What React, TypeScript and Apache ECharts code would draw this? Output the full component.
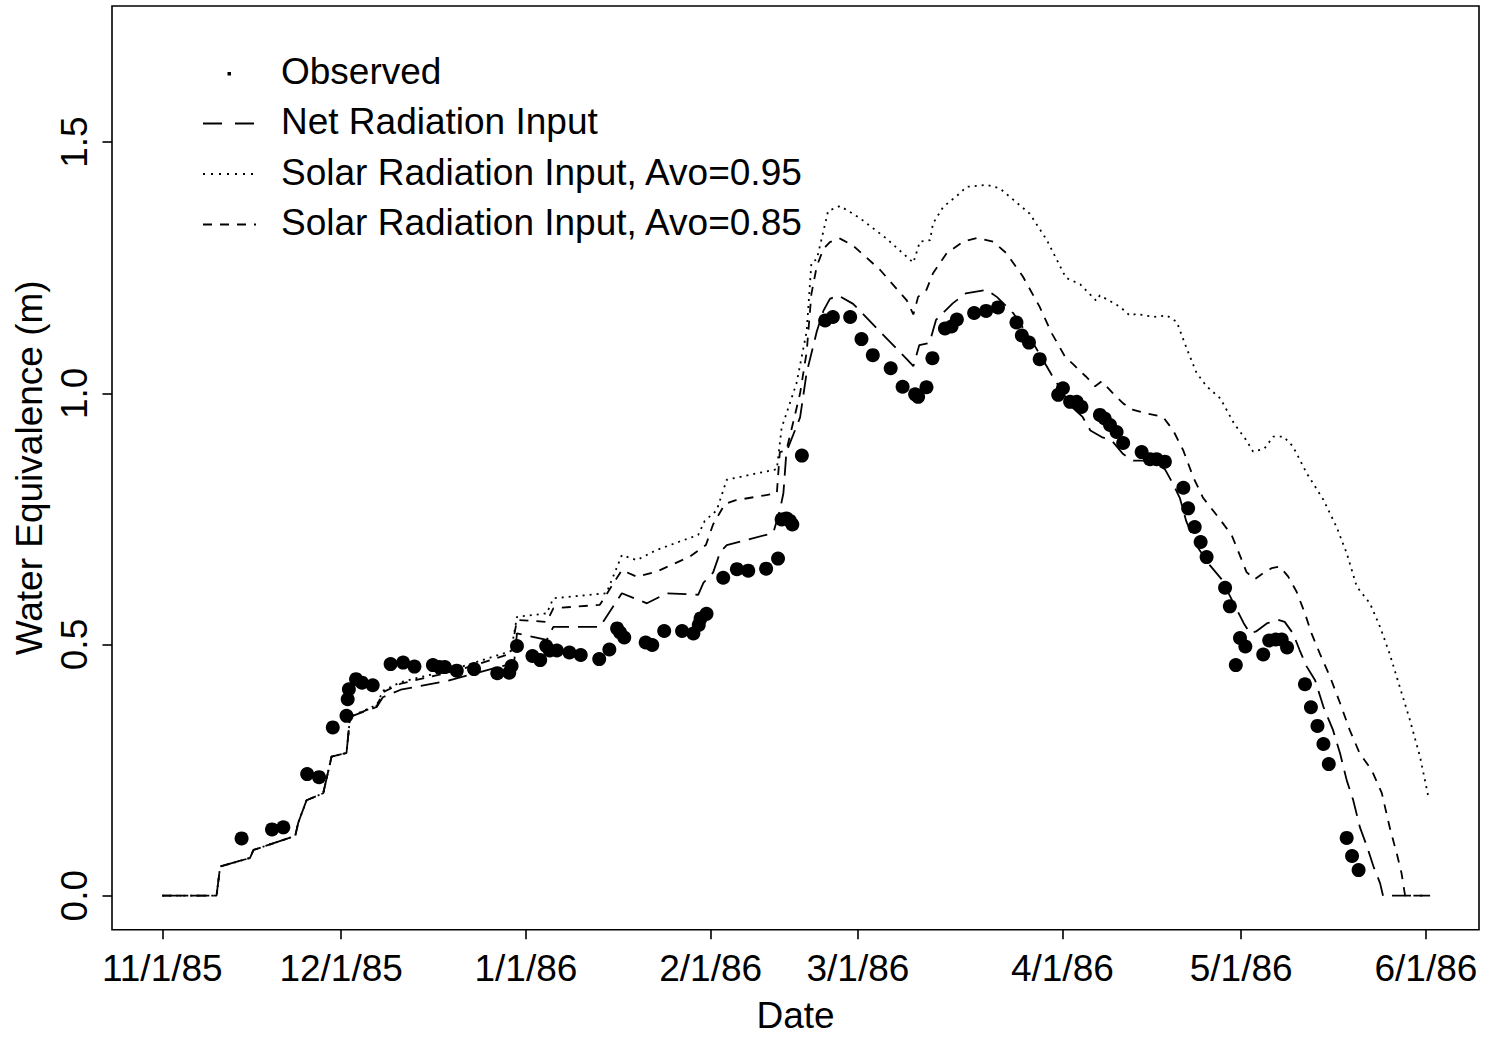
import React, { useEffect, useRef } from "react";
import * as echarts from "echarts";

// X axis is in days since 11/1/85; tick positions as they appear in the reference
const tickDays = [0, 30, 61, 92, 116.7, 151, 181, 212];
const tickLabels = ["11/1/85", "12/1/85", "1/1/86", "2/1/86", "3/1/86", "4/1/86", "5/1/86", "6/1/86"];
const yTicks = [0, 0.5, 1.0, 1.5];

const legendNames = [
  "Observed",
  "Net Radiation Input",
  "Solar Radiation Input, Avo=0.95",
  "Solar Radiation Input, Avo=0.85",
];

// Observed water equivalence [day, m]
const observed: number[][] = [
  [13.3, 0.114], [18.4, 0.132], [20.3, 0.136], [24.3, 0.242], [26.3, 0.236], [28.6, 0.335],
  [30.9, 0.358], [31.1, 0.391], [31.3, 0.411], [32.5, 0.431], [33.5, 0.424], [35.3, 0.419],
  [38.3, 0.461], [40.4, 0.464], [42.3, 0.456], [45.4, 0.459], [46.5, 0.455], [47.4, 0.455],
  [49.4, 0.448], [52.3, 0.451], [56.2, 0.443], [58.2, 0.444], [58.6, 0.457], [59.5, 0.497],
  [62.1, 0.477], [63.4, 0.469], [64.4, 0.497], [65.0, 0.488], [66.2, 0.488], [68.3, 0.484],
  [70.2, 0.479], [73.3, 0.471], [75.0, 0.49], [76.3, 0.532], [76.8, 0.524], [77.5, 0.514],
  [81.1, 0.504], [82.2, 0.499], [84.2, 0.527], [87.2, 0.527], [89.1, 0.522], [90.0, 0.539],
  [90.3, 0.552], [91.3, 0.561], [94.1, 0.633], [96.4, 0.65], [98.3, 0.647], [101.3, 0.651],
  [103.3, 0.671], [103.9, 0.749], [104.7, 0.751], [105.3, 0.746], [105.7, 0.739], [107.3, 0.876],
  [111.2, 1.145], [112.5, 1.152], [115.4, 1.152], [117.3, 1.108], [119.2, 1.076], [122.2, 1.05],
  [124.2, 1.013], [126.3, 0.998], [126.8, 0.993], [128.2, 1.012], [129.2, 1.07], [131.3, 1.129],
  [132.4, 1.133], [133.3, 1.147], [136.2, 1.16], [138.2, 1.164], [140.2, 1.171], [143.3, 1.141],
  [144.2, 1.115], [145.4, 1.101], [147.2, 1.068], [150.3, 0.997], [151.1, 1.01], [152.3, 0.983],
  [153.4, 0.983], [154.2, 0.973], [157.3, 0.957], [158.1, 0.95], [159.0, 0.937], [160.1, 0.923],
  [161.2, 0.901], [164.3, 0.883], [165.7, 0.869], [166.8, 0.869], [168.2, 0.864], [171.3, 0.812],
  [172.1, 0.771], [173.2, 0.734], [174.2, 0.704], [175.2, 0.674], [178.3, 0.613], [179.1, 0.576],
  [180.1, 0.459], [180.8, 0.513], [181.7, 0.496], [184.7, 0.48], [185.7, 0.508], [186.8, 0.51],
  [187.8, 0.51], [188.7, 0.494], [191.7, 0.421], [192.7, 0.375], [193.8, 0.338], [194.8, 0.302],
  [195.7, 0.262], [198.7, 0.115], [199.6, 0.079], [200.7, 0.051],
];

// Net radiation input model
const netRadiation: number[][] = [
  [0, 0], [9.1, 0], [9.7, 0.058], [14.7, 0.075], [15.3, 0.091], [22.3, 0.119], [22.8, 0.145],
  [24.2, 0.19], [27, 0.204], [28.4, 0.277], [30.9, 0.284], [31.5, 0.356], [36, 0.376], [37, 0.395],
  [40, 0.41], [48, 0.428], [56.6, 0.456], [59, 0.462], [59.5, 0.522], [64.5, 0.509], [65.6, 0.535],
  [73.4, 0.535], [77.1, 0.602], [81.3, 0.582], [84.6, 0.602], [89.9, 0.599], [90.8, 0.623],
  [92.4, 0.643], [93.6, 0.684], [94.7, 0.698], [102.5, 0.722], [103.6, 0.767], [104.2, 0.801],
  [104.7, 0.883], [107, 0.952], [108.1, 1.041], [109.8, 1.123], [110.9, 1.164], [112, 1.188],
  [113.4, 1.195], [115.9, 1.178], [120.4, 1.123], [124.9, 1.068], [126, 1.054], [127, 1.096],
  [128.7, 1.1], [129.8, 1.146], [132.6, 1.179], [134.8, 1.199], [138.3, 1.206], [140, 1.192],
  [142.8, 1.159], [146.1, 1.1], [149.2, 1.037], [152.5, 0.974], [154.4, 0.953], [155.7, 0.926],
  [157.6, 0.913], [159.3, 0.906], [161.2, 0.879], [162.9, 0.866], [165.7, 0.866], [168.2, 0.849],
  [169.6, 0.819], [170.7, 0.792], [171.8, 0.745], [173.5, 0.697], [175.8, 0.657], [177.7, 0.63],
  [179.7, 0.583], [181.4, 0.543], [182.5, 0.522], [183.5, 0.526], [185.3, 0.542], [187.2, 0.549],
  [188.3, 0.545], [189.7, 0.522], [190.8, 0.489], [192, 0.456], [193.4, 0.429], [194.8, 0.376],
  [196.4, 0.33], [197.6, 0.283], [198.7, 0.23], [199.8, 0.19], [200.9, 0.137], [202.1, 0.098],
  [203.2, 0.058], [204.3, 0.025], [204.8, 0], [212.7, 0],
];

// Solar radiation input, albedo 0.95
const solar95: number[][] = [
  [0, 0], [9.1, 0], [9.7, 0.058], [14.7, 0.075], [15.3, 0.091], [22.3, 0.119], [22.8, 0.145],
  [24.2, 0.19], [27, 0.204], [28.4, 0.277], [30.9, 0.284], [31.5, 0.356], [36, 0.38], [37, 0.408],
  [40, 0.425], [50, 0.455], [58.5, 0.487], [59.5, 0.555], [64.5, 0.562], [65.6, 0.592],
  [74.5, 0.602], [77.1, 0.678], [79.6, 0.668], [82.9, 0.688], [86.8, 0.705], [89.9, 0.718],
  [91, 0.746], [93, 0.767], [94.7, 0.828], [103.1, 0.849], [103.9, 0.931], [106.4, 1.02],
  [108.1, 1.123], [108.9, 1.26], [109.8, 1.267], [110.9, 1.322], [111.7, 1.363], [113.7, 1.373],
  [117, 1.349], [121.5, 1.308], [126, 1.26], [127.1, 1.302], [128.8, 1.305], [129.3, 1.338],
  [131, 1.371], [133.8, 1.398], [134.9, 1.411], [138.3, 1.415], [140.5, 1.408], [142.8, 1.385],
  [145.5, 1.358], [148.4, 1.305], [151.6, 1.23], [154, 1.217], [156.7, 1.184], [157.3, 1.195],
  [160.7, 1.172], [162.3, 1.155], [163.5, 1.158], [166.3, 1.152], [168.5, 1.155], [170.2, 1.142],
  [171.9, 1.088], [173.5, 1.041], [175.2, 1.014], [177.5, 0.99], [179.8, 0.94], [181.9, 0.906],
  [183, 0.884], [184.9, 0.89], [186.4, 0.914], [188.1, 0.914], [189.7, 0.894], [192, 0.841],
  [194.8, 0.788], [197, 0.734], [198.7, 0.682], [200.4, 0.615], [202.6, 0.582], [204.3, 0.535],
  [205.9, 0.482], [207.6, 0.416], [209.3, 0.35], [211, 0.277], [212.4, 0.197],
];

// Solar radiation input, albedo 0.85
const solar85: number[][] = [
  [0, 0], [9.1, 0], [9.7, 0.058], [14.7, 0.075], [15.3, 0.091], [22.3, 0.119], [22.8, 0.145],
  [24.2, 0.19], [27, 0.204], [28.4, 0.277], [30.9, 0.284], [31.5, 0.356], [36, 0.378], [37, 0.405],
  [40, 0.422], [50, 0.45], [58.5, 0.482], [59.5, 0.549], [64.5, 0.545], [65.6, 0.572],
  [73.4, 0.579], [77.1, 0.648], [79.6, 0.635], [82.9, 0.645], [88.5, 0.675], [91.2, 0.698],
  [92.4, 0.739], [94.4, 0.78], [96.1, 0.787], [103.1, 0.801], [103.6, 0.883], [104.7, 0.886],
  [105.9, 0.945], [107, 1.0], [108.1, 1.082], [108.9, 1.198], [109.8, 1.253], [110.9, 1.287],
  [112, 1.301], [113.7, 1.308], [115.9, 1.294], [120.4, 1.246], [124.9, 1.185], [126, 1.157],
  [126.8, 1.192], [128.2, 1.206], [129.3, 1.239], [131.6, 1.279], [134.4, 1.302], [136.6, 1.309],
  [139.4, 1.302], [141.6, 1.279], [144.4, 1.232], [147.2, 1.172], [149.2, 1.12], [151.4, 1.074],
  [152.8, 1.058], [154.9, 1.034], [156.5, 1.014], [157.6, 1.024], [159.5, 1.0], [161.2, 0.98],
  [162.9, 0.967], [165.1, 0.96], [167.9, 0.953], [169.6, 0.926], [171.3, 0.886], [173, 0.832],
  [174.6, 0.792], [176, 0.771], [177.7, 0.745], [179.4, 0.718], [180.8, 0.677], [181.9, 0.644],
  [183.3, 0.63], [184.7, 0.642], [186.1, 0.652], [187.5, 0.655], [188.9, 0.635], [190.3, 0.605],
  [191.7, 0.562], [192.8, 0.522], [194.2, 0.482], [195.9, 0.436], [197.6, 0.383], [199.2, 0.33],
  [200.9, 0.283], [202.9, 0.25], [204.6, 0.204], [205.9, 0.137], [207.1, 0.084], [207.9, 0.045],
  [208.5, 0], [212.7, 0],
];

const FONT = "'Liberation Sans', Arial, Helvetica, sans-serif";
const FS = 37;

export default function App() {
  const ref = useRef<HTMLDivElement>(null);

  useEffect(() => {
    if (!ref.current) return;
    const chart = echarts.init(ref.current, undefined, { renderer: "svg" });

    const labelFor = (v: number) => {
      let best = 0;
      for (let i = 1; i < tickDays.length; i++) {
        if (Math.abs(tickDays[i] - v) < Math.abs(tickDays[best] - v)) best = i;
      }
      return tickLabels[best];
    };

    const legendY0 = 72;
    const legendDy = 50.5;
    const dashes: (number[] | null)[] = [null, [19, 13], [2, 6], [9, 8]];
    const graphic: any[] = [];
    legendNames.forEach((name, i) => {
      const yc = legendY0 + legendDy * i;
      graphic.push({
        type: "text",
        left: 281,
        top: yc - FS / 2 - 1,
        style: { text: name, fontSize: FS, fontFamily: FONT, fill: "#000" },
      });
      if (i === 0) {
        graphic.push({
          type: "rect",
          shape: { x: 227.5, y: yc, width: 3.5, height: 3.5 },
          style: { fill: "#000" },
        });
      } else {
        graphic.push({
          type: "line",
          shape: { x1: 203, y1: yc + 1, x2: 256, y2: yc + 1 },
          style: { stroke: "#000", lineWidth: 1.8, lineDash: dashes[i] },
        });
      }
    });

    const lineSeries = (name: string, data: number[][], dash: number[]) => ({
      name,
      type: "line",
      data,
      showSymbol: false,
      symbol: "none",
      lineStyle: { color: "#000", width: 1.8, type: dash },
      z: 2,
    });

    chart.setOption({
      animation: false,
      backgroundColor: "#fff",
      grid: {
        left: 112,
        right: 21,
        top: 6,
        bottom: 110.3,
        show: true,
        borderColor: "#000",
        borderWidth: 1.6,
        backgroundColor: "transparent",
      },
      xAxis: {
        type: "value",
        min: -8.44,
        max: 220.9,
        splitLine: { show: false },
        axisLine: { show: false, onZero: false },
        axisTick: {
          show: true,
          length: 9.5,
          lineStyle: { color: "#000", width: 1.6 },
          customValues: tickDays,
        },
        axisLabel: {
          show: true,
          customValues: tickDays,
          formatter: (v: number) => labelFor(v),
          color: "#000",
          fontSize: FS,
          fontFamily: FONT,
          lineHeight: FS,
          margin: 20,
        },
        name: "Date",
        nameLocation: "middle",
        nameGap: 67,
        nameTextStyle: { color: "#000", fontSize: FS, fontFamily: FONT, lineHeight: FS },
      },
      yAxis: {
        type: "value",
        min: -0.0677,
        max: 1.771,
        splitLine: { show: false },
        axisLine: { show: false, onZero: false },
        axisTick: {
          show: true,
          length: 9.5,
          lineStyle: { color: "#000", width: 1.6 },
          customValues: yTicks,
        },
        axisLabel: {
          show: true,
          customValues: yTicks,
          rotate: 90,
          formatter: (v: number) => v.toFixed(1),
          color: "#000",
          fontSize: FS,
          fontFamily: FONT,
          lineHeight: FS,
          margin: 19,
        },
        name: "Water Equivalence (m)",
        nameLocation: "middle",
        nameRotate: 90,
        nameGap: 64,
        nameTextStyle: { color: "#000", fontSize: FS, fontFamily: FONT, lineHeight: FS },
      },
      series: [
        {
          name: legendNames[0],
          type: "scatter",
          data: observed,
          symbol: "circle",
          symbolSize: 14,
          itemStyle: { color: "#000", opacity: 1 },
          z: 3,
        },
        lineSeries(legendNames[1], netRadiation, [19, 9]),
        lineSeries(legendNames[2], solar95, [2, 5]),
        lineSeries(legendNames[3], solar85, [9, 8]),
      ],
      graphic,
    });

    return () => chart.dispose();
  }, []);

  return (
    <div
      ref={ref}
      style={{ position: "absolute", left: 0, top: 0, width: 1500, height: 1040, background: "#fff" }}
    />
  );
}
